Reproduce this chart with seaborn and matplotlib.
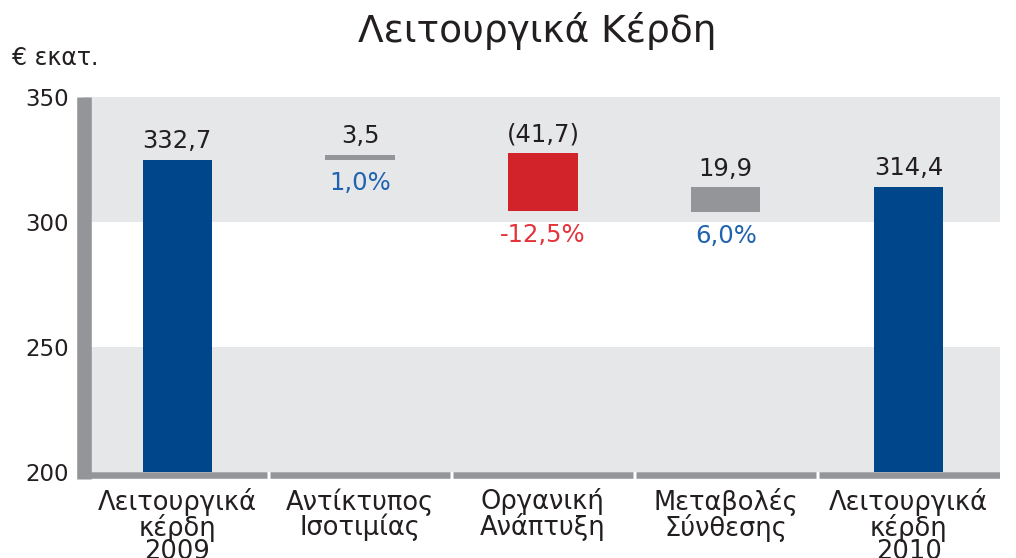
import matplotlib
matplotlib.use("Agg")
import matplotlib.pyplot as plt
import seaborn as sns
import pandas as pd

# ---- data ----
categories = ["Λειτουργικά\nκέρδη\n2009", "Αντίκτυπος\nΙσοτιμίας",
              "Οργανική\nΑνάπτυξη", "Μεταβολές\nΣύνθεσης", "Λειτουργικά\nκέρδη\n2010"]
bar_bottom = [200.0, 325.0, 304.5, 304.0, 200.0]   # drawn lower edge of each bar
bar_top = [325.0, 327.0, 327.7, 314.0, 314.2]      # drawn upper edge of each bar
value_labels = ["332,7", "3,5", "(41,7)", "19,9", "314,4"]
pct_labels = ["", "1,0%", "-12,5%", "6,0%", ""]
bar_colors = ["#00468b", "#939598", "#d2232a", "#939598", "#00468b"]
pct_colors = ["#1f63b0", "#1f63b0", "#e5333b", "#1f63b0", "#1f63b0"]
yticks = [200, 250, 300, 350]
title = "Λειτουργικά Κέρδη"
unit_label = "€ εκατ."

TEXT = "#231f20"
GRID_GRAY = "#939598"
BAND = "#e6e7e8"

sns.set_theme(style="white")
plt.rcParams["font.family"] = ["DejaVu Sans"]

fig = plt.figure(figsize=(10.16, 5.58), dpi=100)
ax = fig.add_axes([84 / 1016, 1 - 478.5 / 558, (1000 - 84) / 1016, (478.5 - 97) / 558])

df = pd.DataFrame({"cat": categories, "bottom": bar_bottom, "top": bar_top})
df["height"] = df["top"] - df["bottom"]

for i, row in df.iterrows():
    sns.barplot(x=[row["cat"]], y=[row["height"]], order=categories,
                bottom=row["bottom"], color=bar_colors[i], width=0.38,
                saturation=1, ax=ax, zorder=3, linewidth=0)

ax.set_ylim(197.4, 350)
ax.set_xlim(-0.51, 4.5)

# background bands
ax.axhspan(300, 350, color=BAND, zorder=0, lw=0)
ax.axhspan(200, 250, color=BAND, zorder=0, lw=0)

# bottom axis with small gaps between categories
n = len(categories)
for i in range(n):
    x0 = i - 0.5 + 0.009 if i > 0 else -0.51
    x1 = i + 0.5 - 0.009 if i < n - 1 else 4.5
    ax.hlines(198.7, x0, x1, colors=GRID_GRAY, linewidth=4.7, zorder=2)

# spines
for s in ["top", "right", "bottom"]:
    ax.spines[s].set_visible(False)
ax.spines["left"].set_color(GRID_GRAY)
ax.spines["left"].set_linewidth(10.5)
ax.spines["left"].set_capstyle("butt")
ax.spines["left"].set_zorder(4)

ax.set_yticks(yticks)
ax.set_yticklabels([str(v) for v in yticks])
ax.tick_params(axis="y", length=0, pad=11, labelsize=16.5, labelcolor=TEXT)
ax.tick_params(axis="x", length=0, pad=7, labelsize=18.5, labelcolor=TEXT)
for lbl in ax.get_xticklabels():
    lbl.set_linespacing(0.88)
ax.set_xlabel("")
ax.set_ylabel("")
ax.grid(False)

# value labels above and percent labels below
for i in range(n):
    ax.annotate(value_labels[i], (i, bar_top[i]), xytext=(0, 8), textcoords="offset points",
                ha="center", va="baseline", fontsize=17.5, color=TEXT, zorder=5)
    if pct_labels[i]:
        ax.annotate(pct_labels[i], (i, bar_bottom[i]), xytext=(0, -8.5), textcoords="offset points",
                    ha="center", va="top", fontsize=17.5, color=pct_colors[i], zorder=5)

fig.text(537 / 1016, 1 - 31 / 558, title, ha="center", va="center", fontsize=27, color=TEXT)
fig.text(12 / 1016, 1 - 58 / 558, unit_label, ha="left", va="center", fontsize=17, color=TEXT)

fig.savefig("out.png", dpi=100)
